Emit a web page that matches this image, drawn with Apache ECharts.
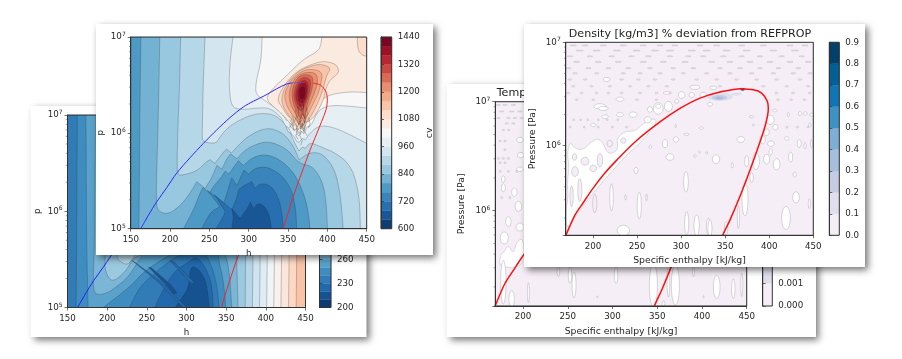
<!DOCTYPE html>
<html><head><meta charset="utf-8">
<script src="https://cdn.jsdelivr.net/npm/echarts@6/dist/echarts.min.js"></script>
<style>html,body{margin:0;padding:0;background:#fff}#c{width:902px;height:359px;filter:blur(0.35px)}</style>
</head><body><div id="c"></div>
<script>
// ---- values: [enthalpy kJ/kg, log10(pressure Pa), 1 = sharp tip] ----
const enthalpyTicks=[200,250,300,350,400,450];
const minorDecades=[2,3,4,5,6,7,8,9];

// front-left panel, cv field
const cvLevels=[600,640,680,720,760,800,840,880,920,960,1000,1040,1080,1120,1160,1200,1240,1280,1320,1360,1400,1440];
const cvColors=['rgb(12,61,115)','rgb(25,86,150)','rgb(39,111,177)','rgb(56,132,187)','rgb(78,154,199)','rgb(116,178,212)','rgb(152,200,224)','rgb(182,215,232)','rgb(211,230,240)','rgb(229,239,244)','rgb(247,247,247)','rgb(250,234,224)','rgb(253,220,201)','rgb(249,196,170)','rgb(245,170,137)','rgb(233,142,113)','rgb(218,106,85)','rgb(202,72,65)','rgb(185,38,50)','rgb(156,17,39)','rgb(121,6,34)'];
const cvUnder1000=[[317,7],[316,6.76],[309,6.52],[309,6.4],[322,6.33],[335.5,6.25],[342,6.2],[345,6.17],[348,6.13,1],[351,6.14,1],[353,6.07,1],[357,6.03,1],[360,6.05,1],[362,5.98,1],[364,5.97,1],[367,6.02,1],[370,5.99,1],[374,6.06,1],[380,6.08],[386,6.2],[395,6.27],[412,6.29],[450,6.26],[450,5],[150,5],[150,7]];
const cvUnder960=[[280,7],[276,6.73],[275,6.48],[278,6.27],[291,6.24],[310,6.26],[327,6.26],[342,6.16],[346,6.07,1],[350,6.06,1],[355,5.98,1],[358,5.96,1],[361,5.91,1],[364,5.9,1],[368,5.94,1],[372,5.93,1],[378,6],[390,6.08],[412,6.05],[450,5.89],[450,5],[150,5],[150,7]];
const cvUnder920=[[244.5,7],[242,6.48],[241,6],[241,5.91],[253,5.89],[259,5.9,1],[268,6.01],[280.5,6.1],[306,6.2],[331,6.2],[346,6.1],[350,6.01,1],[353,6,1],[357,5.92,1],[360,5.87,1],[364,5.81,1],[368,5.85,1],[372,5.84,1],[378,5.9],[390,5.86],[408,5.8],[425,5.7],[435,5.55],[441,5.3],[442,5],[150,5],[150,7]];
const cvUnder880=[[213.5,7],[212,6.48],[210,6.05],[209,5.72],[209.5,5.56],[217,5.56],[234,5.6],[246.5,5.7],[251,5.72,1],[257,5.68,1],[268,5.8],[272,5.83,1],[278,5.79,1],[297.5,5.96],[323,6.06],[344,6],[357,5.86],[364,5.72,1],[378,5.8],[395,5.78],[410,5.61],[417,5.33],[420,5],[150,5],[150,7]];
const cvUnder840=[[187,7],[185,6.13],[182,5.28],[185,5.18],[198,5.15],[213,5.24],[225.5,5.37],[234,5.49,1],[244.5,5.42,1],[253,5.53],[259.5,5.66,1],[266,5.62,1],[272,5.73],[277,5.78,1],[285,5.73,1],[297.5,5.84],[323,5.92],[348,5.84],[364,5.68],[382,5.65],[395,5.47],[399,5.23],[400,5],[150,5],[150,7]];
const cvUnder800=[[217,5],[230,5.2],[238,5.37],[242,5.43,1],[250,5.37,1],[255,5.44],[265.5,5.54],[270,5.6,1],[275,5.57,1],[284,5.68],[287,5.71,1],[293,5.66,1],[306,5.75],[323,5.78],[344,5.7],[361,5.54],[371.5,5.33],[376,5.16],[378,5]];
const cvUnder800Left=[[150,7],[163,7],[162,6.5],[161,5.5],[160.5,5],[150,5]];
const cvUnder760=[[240,5],[252,5.18],[263.5,5.23,1],[247.5,5.4,1],[268.5,5.27,1],[276,5.47],[278.5,5.53,1],[285,5.45,1],[291,5.56],[294,5.61,1],[300,5.57,1],[308,5.63],[323,5.65],[342,5.56],[355,5.4],[360,5.2],[361,5]];
const cvUnder720=[[258.5,5],[268,5.13],[270,5.18,1],[257,5.35,1],[278.5,5.2,1],[285,5.32],[287,5.42],[304,5.49,1],[308,5.42,1],[314,5.47],[327,5.46],[338,5.33],[343,5.13],[344,5]];
const cvUnder680=[[278.5,5],[280.5,5.12,1],[278.5,5.21,1],[289,5.11,1],[300,5.23],[302,5.28,1],[306,5.21,1],[312,5.27],[321,5.23],[327,5.12],[329,5]];
const cvOver1040=[[393,7],[390.5,6.86],[369.5,6.77],[348.5,6.6],[329,6.45],[322,6.36],[329,6.29],[342,6.2],[352.5,6.1,1],[356,6.08,1],[358,6.02,1],[361,6.05,1],[364,5.99,1],[367,6.05,1],[370,6.02,1],[373,6.1,1],[380,6.17],[390.5,6.33],[403,6.4],[429,6.43],[450,6.42],[450,7]];
const cvOver1080Corner=[[438,7],[438.5,6.87],[444,6.81],[450,6.8],[450,7]];
const cvOver1080=[[414,6.67],[410,6.72],[395,6.75],[378,6.71],[361,6.64],[349,6.54],[339,6.41],[337,6.33],[343,6.26],[349,6.18],[354,6.15,1],[357,6.07,1],[360,6.1,1],[363,6.03,1],[367,6.08,1],[370,6.04,1],[373,6.11,1],[376,6.12],[384,6.17],[395,6.34],[398,6.46],[403,6.55],[414,6.62]];
const cvOver1120=[[405,6.68],[391,6.72],[375.8,6.69],[361,6.63],[349,6.52],[342,6.39],[342.5,6.3],[349,6.2],[357,6.12,1],[362,6.06,1],[364.5,6.11,1],[367.4,6.05,1],[370,6.11,1],[375,6.12,1],[383,6.23],[391,6.37],[396,6.5],[399,6.6]];
const cvOver1160=[[394,6.64],[375.8,6.67],[361,6.61],[351,6.52],[345,6.39],[348,6.29],[354,6.2],[360,6.14,1],[364,6.09,1],[367,6.13,1],[369,6.07,1],[373,6.15,1],[381,6.29],[388,6.4],[392,6.52]];
const cvOver1200=[[386,6.63],[369,6.63],[357,6.56],[351,6.42],[352.5,6.31],[358,6.22],[362,6.16,1],[365,6.11,1],[368,6.16,1],[371,6.1,1],[373,6.22,1],[383,6.4],[388,6.53]];
const cvOver1240=[[382,6.6],[367,6.61],[358,6.53],[354.5,6.4],[357.5,6.28],[362.5,6.2,1],[366,6.15,1],[369,6.2,1],[371,6.15,1],[375,6.32],[381,6.46]];
const cvOver1280=[[379,6.57],[366.5,6.58],[359.5,6.49],[357,6.38],[361,6.27],[366.5,6.22],[372,6.29],[378,6.44]];
const cvOver1320=[[376,6.54],[366.5,6.55],[360.5,6.46],[359.5,6.36],[363.5,6.28],[369,6.27],[375,6.4]];
const cvOver1360=[[374,6.52],[366,6.52],[362,6.43],[363,6.34],[368,6.3],[373,6.37]];
const cvOver1400=[[372,6.48],[366,6.48],[364,6.41],[366.5,6.34],[371,6.37]];
const cvNeedles=[[[362,6.28],[364,6.2],[361,6.15],[364,6.08]],[[366,6.3],[368,6.2],[365,6.14],[367,6.06]],[[370,6.3],[369,6.2],[372,6.14],[370,6.08]],[[373,6.27],[375,6.2],[372,6.15]],[[359,6.24],[361,6.18],[358,6.12]],[[364,6.12],[366,6.04],[368,6.1],[370,6]],[[355,6.18],[358,6.12],[355,6.07],[358,6.03]],[[352,6.14],[355,6.1],[352,6.05]],[[360,6.08],[362,6.02],[360,5.97],[363,5.93]],[[367,6.02],[365,5.97],[368,5.92],[366,5.87]],[[372,6.08],[371,6.02],[374,5.97]],[[376,6.16],[378,6.1],[376,6.05]],[[363,6.35],[365,6.3],[363,6.25]],[[368,6.34],[370,6.27],[368,6.22]]];
const domeLiquid=[[162.7,5],[172.5,5.14],[183,5.28],[196,5.43],[208.5,5.58],[225.4,5.74],[242.4,5.89],[259.3,6.03],[276.3,6.16],[293.2,6.27],[306,6.33],[320.8,6.39],[335.6,6.46],[348.3,6.51],[355.5,6.52]];
const domeLiquidEnd=[[355.5,6.52],[364,6.525],[370,6.525]];
const domeVapor=[[344,5],[352.5,5.23],[361,5.44],[369.5,5.63],[378,5.82],[386.4,5.99],[392.8,6.12],[398.3,6.24],[400,6.34],[399,6.41],[396,6.46],[390.7,6.5],[382,6.52]];

// back-left panel, temperature field
const tLevels=[200,210,220,230,240,250,260,270,280,290,300,310,320,330,340,350,360,370,380,390,400,410,420,430,440];
const tTicks=[200,230,260,290,320,350,380,410,440];
const tColors=['rgb(11,59,113)','rgb(23,82,144)','rgb(34,104,173)','rgb(49,123,183)','rgb(63,141,192)','rgb(90,162,203)','rgb(123,182,214)','rgb(154,201,224)','rgb(181,214,231)','rgb(207,228,239)','rgb(223,236,243)','rgb(239,245,246)','rgb(248,241,237)','rgb(251,230,219)','rgb(253,217,196)','rgb(249,195,167)','rgb(245,172,138)','rgb(235,145,115)','rgb(223,116,92)','rgb(210,87,73)','rgb(194,57,59)','rgb(179,27,44)','rgb(150,15,37)','rgb(119,5,33)'];
const tUnder350=[[150,5],[438.2,5],[439,5.6],[440,7],[150,7]];
const tUnder340=[[150,5],[428.6,5],[429.5,5.6],[430,7],[150,7]];
const tUnder330=[[150,5],[419,5],[420,5.6],[421,7],[150,7]];
const tUnder320=[[150,5],[410,5],[411,5.6],[412,7],[150,7]];
const tUnder310=[[150,5],[401,5],[402,5.6],[403,7],[150,7]];
const tUnder300=[[150,5],[392,5],[393,5.6],[394,7],[150,7]];
const tUnder290=[[150,5],[383,5],[384,5.6],[385,7],[150,7]];
const tUnder280=[[150,5],[374,5],[374.5,5.6],[375,7],[150,7]];
const tUnder270=[[150,5],[365,5],[364,5.3],[363,5.55],[365,7],[150,7]];
const tBayInner=[[197.3,5.51],[197.3,5.39],[203.6,5.28],[212,5.29],[224.6,5.39],[231,5.49],[237,5.53],[260,5.6],[230,5.8],[200,5.8]];
const tBayTip=[[212,5.54],[214,5.49],[224.6,5.44],[231,5.49],[240,5.6],[215,5.6]];
const tUnder260=[[150,7],[185.5,7],[184,5.6],[182.6,5.39],[182.6,5.18],[186.8,5.13],[199.4,5.147],[212,5.217],[224.6,5.3],[235,5.42],[239.4,5.49],[260,5.7],[340,5.7],[350.8,5.53],[355,5.285],[357,5],[150,5]];
const tUnder250Left=[[150,7],[173.3,7],[174,5.7],[176,5],[150,5]];
const tUnder250=[[195,5],[231,5.23],[244,5.355],[267,5.49],[283,5.56],[300,5.7],[340.3,5.7],[340.3,5.49],[346.6,5.285],[349.5,5]];
const tUnder240Left=[[150,7],[162.4,7],[161.5,5.6],[160.7,5],[150,5]];
const tUnder240=[[228,5],[241.5,5.22],[262,5.37],[278,5.48],[295,5.56],[320,5.6],[329.8,5.475],[338.2,5.25],[341.1,5]];
const tUnder230=[[260,5],[270,5.18],[285,5.38],[300,5.46],[312.9,5.53],[323.4,5.425],[331.9,5.25],[334,5]];
const tUnder220=[[285.6,5],[296,5.12],[303,5.22],[305,5.44],[317.1,5.39],[325.5,5.25],[328.9,5]];
const tStripeA=[[231,5.49,1],[262,5.28,1],[296,5],[300,5],[268,5.27,1],[235,5.47,1]];
const tStripeB=[[279,5.49,1],[306,5.25,1],[310,5.26,1],[285,5.47,1]];
const tStripeC=[[252,5.42,1],[276,5.22,1],[284,5.14,1],[288,5.15,1],[280,5.24,1],[256,5.41,1]];

// right panels, deviation fields
const devLevels=[0,0.1,0.2,0.3,0.4,0.5,0.6,0.7,0.8,0.9];
const tempDevLevels=[0,0.001,0.002,0.003,0.004,0.005,0.006,0.007,0.008,0.009];
const devColors=['#f5eef6','#e1dfee','#c5cce3','#a6bddb','#7eaed3','#3f93c2','#0f75b3','#045f94','#03406b'];
const domeRightLiquid=[[165,5.05],[169,5.13],[179.6,5.33],[189,5.45],[200,5.587],[213,5.73],[226.9,5.86],[249.5,6.05],[276,6.23],[298.7,6.36],[321.4,6.46],[344,6.52],[366.8,6.55]];
const domeRightVapor=[[366.8,6.55],[382,6.54],[391,6.51],[397.8,6.43],[398.9,6.35],[395,6.18],[387.6,5.99],[378,5.76],[366.8,5.51],[355.4,5.28],[347,5.13],[344,5.05]];
const devMassFront=[[170,5.17],[169.3,5.38],[172,5.51],[170.8,5.64],[173,5.8],[170.8,5.93],[173.8,6.04],[179.5,5.97],[189,5.96],[198.4,6.04],[206,6.07],[211.7,6.02],[217.4,5.91],[228.7,5.96],[226.8,6.07],[236.3,6.14],[247.6,6.14],[255.2,6.2],[264.6,6.26],[274,6.25],[259,6.07],[238,5.91],[219,5.73],[200,5.54],[185,5.38]];
// [h, log10p, half-width, half-height]
const devWhiteBlobs=[[221,5.5,2,0.13],[252.5,5.42,2.3,0.13],[305.5,5.65,2.6,0.1],[281.7,6.02,3,0.04],[294,6.06,3,0.026],[287.3,5.89,4.5,0.032],[248.8,5.76,2.3,0.032],[234.4,5.18,7,0.05],[306.3,5.25,2.3,0.11],[317.6,5.23,3,0.1],[330.8,5.22,2,0.08],[260.8,5.5,0.8,0.032],[237,5.5,0.8,0.026],[306,6.11,3,0.01],[265,5.99,1.5,0.016],[315.7,5.9,1.5,0.013],[321,5.94,1.5,0.01],[329,5.93,1.2,0.01],[323,6.17,2,0.013],[294,6.19,0.8,0.016],
[419,5.3,4.9,0.113],[430.4,5.5,3.8,0.055],[372.5,5.48,3.4,0.16],[385,5.85,3.8,0.08],[397,5.87,3.4,0.048],[408.4,5.82,3.8,0.055],[374.4,5.85,2.3,0.055],[339.6,5.87,4.2,0.042],[367.6,6.06,4.2,0.029],[392.5,6.06,3,0.042],[397,6.13,3,0.032],[402,6.02,3.8,0.026],[401.6,5.94,1.9,0.032],[407,6.18,3,0.026],[401,6.25,4.5,0.045],[419.8,6.07,2.6,0.016],[424.3,5.89,2.3,0.048],[434,6.02,2.3,0.039],[440.6,6,1.2,0.032],[448,6.02,1.2,0.039],[380,5.69,1.9,0.048],[358,5.81,1.2,0.026],[332.7,5.2,2.3,0.08],[351,5.2,1.9,0.065],[365,5.31,1.2,0.11],[445.5,5.44,1.2,0.048],[429,5.72,1.9,0.023],[380,6.28,2.6,0.01],[382,6.2,1.2,0.01],[332.7,6.4,3,0.019],[406.5,6.34,2.6,0.013],[421.6,6.3,1.2,0.02],[435,6.31,1.9,0.02],[441,6.31,1.9,0.02],[448,6.3,1.9,0.016],[446,6.2,1.2,0.02],
[215.5,6.64,3.8,0.02],[230.6,6.45,4.5,0.02],[207.9,6.38,6.8,0.026],[274,6.36,5.6,0.055],[285.5,6.38,4.5,0.048],[300.6,6.49,3.8,0.032],[315.7,6.565,5.6,0.02],[325.2,6.49,3.8,0.026],[312,6.49,3,0.026],[336.5,6.56,3.8,0.016],[264.6,6.35,3,0.026],[295,6.43,2.3,0.02],[283.5,6.51,3.8,0.013],[274,6.38,3,0.02],[262,6.25,4,0.03],[245.5,6.3,4.5,0.026],[230.6,6.3,3.8,0.02],[211.7,6.36,5.6,0.02],[213.6,6.28,3.8,0.016],[200.3,6.2,3,0.016]];
const devIslands=[[190.9,5.85,4.5,0.039],[179.5,5.75,3.8,0.048],[207.9,5.86,3,0.065],[200.3,5.78,3.8,0.032],[185,5.57,2.3,0.11],[175.7,5.51,1.9,0.1],[219,6.02,3,0.032],[234.4,6.05,3,0.026],[202,5.44,2.3,0.09],[179,5.89,2.6,0.03]];
const devDashRows=[
 {e:6.97,dh:3.6,de:0.005,hs:[177.6,190.9,211.7,234.4,257,276,293,321.4,340.3,368.7,393.3,423.5,440.5]},
 {e:6.92,dh:4.2,de:0.005,hs:[185,204,227,249.5,270.3,287.3,312,329,351.6,374.4,404.6,429.2]},
 {e:6.865,dh:3.2,de:0.005,hs:[173.8,196.5,221.1,243.8,262.8,287.3,308.1,325.2,347.9,368.7,389.5,414.1,436.8]},
 {e:6.81,dh:3.6,de:0.006,hs:[181.4,206,228.7,257.1,279.8,304.4,334.6,355.4,378.1,400.8,423.5,444.3]},
 {e:6.75,dh:2.8,de:0.006,hs:[172,194.7,217.4,240,264.6,291.1,313.8,344.1,366.8,389.5,410.3,433]},
 {e:6.7,dh:2.6,de:0.007,hs:[179.5,204.1,234.4,253.3,276,302.5,329,355.4,380,404.6,427.3,446.2]},
 {e:6.64,dh:2.2,de:0.007,hs:[173.8,190.9,232.5,251.4,270.3,291.1,317.6,340.3,363,385.7,408.4,434.9]},
 {e:6.575,dh:2,de:0.008,hs:[177.6,198.4,219.2,242,262.8,283.6,344.1,393.3,419.8,444.3]},
 {e:6.51,dh:1.8,de:0.009,hs:[172,187,204,217.4,232.5,253.3,272,287.3,408,427,446]},
 {e:6.445,dh:1.6,de:0.009,hs:[181.4,200.3,228.7,250,272,410,425,440]},
 {e:6.25,dh:1.2,de:0.01,hs:[178,186,194,206,216,228]},
 {e:6.18,dh:1.2,de:0.01,hs:[174,190,206,222,238,420,432,444]}];
const tempWhiteBlobs=[[196.6,6.65,3.7,0.024],[197.4,6.51,3.7,0.024],[196.6,6.38,3.7,0.021],[178,6.29,1.9,0.03],[178,6.21,2.2,0.037],[190.3,6.17,3,0.04],[194.8,6.04,3.7,0.046],[183.6,5.9,3,0.046],[196.6,5.85,4.5,0.037],[179,5.75,4.5,0.055],
[178,5.345,3,0.2],[187.3,5.19,3,0.076],[206,5.25,1.1,0.09],[239.5,5.44,1.5,0.046],[252.5,5.41,1.9,0.076],[257,5.32,2.2,0.12],[304,5.41,1.9,0.076],[345.7,5.315,4.5,0.2],[357,5.15,1.5,0.024],[370.3,5.315,4.5,0.18],[362.5,5.35,1.5,0.14],[416.5,5.3,3.7,0.107],[435,5.285,1.9,0.09],[444.5,5.32,1.1,0.107],[390.5,5.44,1.1,0.046],[283,5.21,0.6,0.01],[401.6,5.21,0.6,0.01]];
const tempMass=[[172.8,5.48],[175,5.6],[178.7,5.62],[183.6,5.69],[189.2,5.6],[192.9,5.72],[201,5.75],[201,5.48]];
const tempDashRows=[
 {e:6.97,dh:2.6,de:0.005,hs:[172.4,179.9,189.2]},{e:6.91,dh:2.6,de:0.005,hs:[176.1,187.3,196.6]},{e:6.85,dh:2.2,de:0.005,hs:[172.4,183.6,191,198.5]},{e:6.8,dh:2,de:0.006,hs:[181.7,189.2]},{e:6.74,dh:1.6,de:0.007,hs:[178,184]},{e:6.64,dh:1.6,de:0.008,hs:[174.3,179.9]},{e:6.56,dh:1.4,de:0.008,hs:[179.9]},{e:6.48,dh:1.4,de:0.01,hs:[172.4,178,183.6]},{e:6.44,dh:1.4,de:0.009,hs:[174.3,179.9]},{e:6.36,dh:1.2,de:0.01,hs:[174.3,183.6,192.9]},{e:6.12,dh:1.2,de:0.012,hs:[176.1,185.4]}];
const devSmudges=[[344,6.474,15,0.04,1],[363,6.5,6,0.016,1],[343.5,6.465,9,0.026,2],[343,6.46,4.5,0.013,3],[369.8,6.545,4.5,0.02,1],[369.8,6.545,2.5,0.013,7]];

// ---- layout of the four pasted figures ----
const INK='#262626', LINE='rgba(50,50,50,0.45)', WLINE='rgba(125,125,130,0.42)', DASH='rgba(125,125,130,0.32)';
const cards=[{x:30.5,y:106,w:336,h:231},{x:96,y:24,w:337,h:231},{x:446.5,y:84,w:369.5,h:253},{x:524,y:24,w:341,h:243}];
const grids=[
 {left:67.5,top:115,width:238,height:192.5},{left:130.7,top:37,width:236,height:191.7},
 {left:495.3,top:101.7,width:251.4,height:204.3},{left:565.7,top:42.3,width:247.6,height:193},
 {left:319.5,top:115,width:11.5,height:192.5},{left:381,top:37,width:10.7,height:191.7},
 {left:762.7,top:101.7,width:9.6,height:204.3},{left:829.3,top:42.3,width:10,height:193}];
const zOf=[10,30,50,70];
const pw=e=>Math.pow(10,e);
const xAxes=[],yAxes=[],series=[];
const TICKFONT=8.7, NAMEFONT=9.3;

function powerLabel(v){const e=Math.round(Math.log10(v));return Math.abs(Math.log10(v)-e)<1e-3?'{b|10}{s|'+e+'}':'';}
const rich={b:{fontSize:TICKFONT,color:INK,fontFamily:'DejaVu Sans'},s:{fontSize:6,color:INK,fontFamily:'DejaVu Sans',verticalAlign:'bottom',padding:[0,0,5,0]}};
const lab=(o)=>Object.assign({fontSize:TICKFONT,color:INK,fontFamily:'DejaVu Sans',margin:6.5},o||{});
const axLine={show:true,lineStyle:{color:'#333',width:1}};
const tick={show:true,length:3,lineStyle:{color:'#333',width:0.7}};
const nameStyle=s=>({fontSize:s,color:INK,fontFamily:'DejaVu Sans'});

function addPlot(k,xmin,pmin,xname,yname,xCustom,gapX,gapY,nameSize){
 const z=zOf[k]+6;
 xAxes.push({gridIndex:k,type:'value',min:xmin,max:450,z,name:xname,nameLocation:'middle',nameGap:gapX,
  nameTextStyle:nameStyle(nameSize),splitLine:{show:false},axisLine:axLine,
  axisTick:Object.assign({},tick,{customValues:xCustom}),axisLabel:lab({customValues:xCustom,showMinLabel:true,showMaxLabel:true})});
 yAxes.push({gridIndex:k,type:'log',logBase:10,min:pmin,max:1e7,z,name:yname,nameLocation:'middle',nameGap:gapY,
  nameTextStyle:nameStyle(nameSize),splitLine:{show:false},axisLine:axLine,axisTick:tick,
  axisLabel:{margin:5,formatter:powerLabel,rich,showMinLabel:true,showMaxLabel:true}});
}
function addColorbar(k,plot,min,max,interval,custom,fmt,name){
 const z=zOf[plot]+6;
 xAxes.push({gridIndex:k,type:'value',min:0,max:1,show:false,z});
 const a={gridIndex:k,type:'value',position:'right',min,max,z,splitLine:{show:false},axisLine:axLine,axisTick:tick,
  axisLabel:lab({formatter:fmt,margin:6}),nameTextStyle:nameStyle(NAMEFONT)};
 if(interval)a.interval=interval;
 if(custom){a.axisTick=Object.assign({},tick,{customValues:custom});a.axisLabel.customValues=custom;}
 if(name){a.name=name;a.nameLocation='middle';a.nameGap=33;a.nameRotate=90;}
 yAxes.push(a);
}
function bandSeries(axisIdx,plot,levels,colors){
 series.push({type:'custom',xAxisIndex:axisIdx,yAxisIndex:axisIdx,z:zOf[plot]+2,silent:true,animation:false,
  data:colors.map((c,i)=>[0,levels[i],levels[i+1]]),encode:{x:0,y:1},
  renderItem(p,api){const i=p.dataIndex;const a=api.coord([0,levels[i+1]]),b=api.coord([1,levels[i]]);
   return {type:'rect',shape:{x:a[0],y:a[1],width:b[0]-a[0],height:b[1]-a[1]},style:{fill:colors[i],stroke:colors[i],lineWidth:0.3}};}});
}
// rounds the read-off contour vertices; vertices on the plot frame or flagged as tips stay where they are
function rounded(pts,xmin,emin,closed){
 const fixed=q=>q[2]===1||q[0]<=xmin||q[0]>=450||q[1]<=emin||q[1]>=7;
 let cur=pts;
 for(let it=0;it<2;it++){
  const out=[];const n=cur.length;
  for(let i=0;i<(closed?n:n-1);i++){
   const a=cur[i],b=cur[(i+1)%n];const fa=fixed(a),fb=fixed(b);
   if(fa)out.push(a);else out.push([a[0]*.76+b[0]*.24,a[1]*.76+b[1]*.24]);
   if(!fb)out.push([a[0]*.24+b[0]*.76,a[1]*.24+b[1]*.76]);
  }
  if(!closed)out.push(cur[n-1]);
  cur=out;
 }
 return cur;
}
function polySeries(axisIdx,plot,layers,lineColor,xmin,emin){
 series.push({type:'custom',xAxisIndex:axisIdx,yAxisIndex:axisIdx,z:zOf[plot]+2,clip:true,silent:true,animation:false,
  data:layers.map(l=>[l.pts[0][0],pw(l.pts[0][1])]),encode:{x:0,y:1},
  renderItem(p,api){const l=layers[p.dataIndex];const src=l.open?l.pts:rounded(l.pts,xmin,emin,true);const pts=src.map(q=>api.coord([q[0],pw(q[1])]));
   if(l.open)return {type:'polyline',z2:p.dataIndex,shape:{points:pts},style:{fill:'none',stroke:l.stroke||lineColor,lineWidth:0.5}};
   return {type:'polygon',z2:p.dataIndex,shape:{points:pts},style:{fill:l.fill,stroke:lineColor,lineWidth:0.6}};}});
}
function blobSeries(axisIdx,plot,blobs,fill,stroke,width){
 series.push({type:'custom',xAxisIndex:axisIdx,yAxisIndex:axisIdx,z:zOf[plot]+3,clip:true,silent:true,animation:false,
  data:blobs.map(b=>[b[0],pw(b[1])]),encode:{x:0,y:1},
  renderItem(p,api){const b=blobs[p.dataIndex];const c=api.coord([b[0],pw(b[1])]),d=api.coord([b[0]+b[2],pw(b[1]+b[3])]);
   const f=b.length>4?devColors[b[4]]:fill;
   return {type:'ellipse',shape:{cx:c[0],cy:c[1],rx:Math.abs(d[0]-c[0]),ry:Math.abs(c[1]-d[1])},style:{fill:f,stroke:b.length>4?null:stroke,lineWidth:width||0.7}};}});
}
function lineSeries(k,pts,color,width,type){
 series.push({type:'line',xAxisIndex:k,yAxisIndex:k,z:zOf[k]+4,data:pts.map(q=>[q[0],pw(q[1])]),showSymbol:false,smooth:0.3,silent:true,animation:false,clip:true,
  lineStyle:{color,width,type:type||'solid'}});
}
function minorSeries(k,xmin,pmin){
 const vals=[];[5,6].forEach(d=>minorDecades.forEach(m=>{const v=m*pw(d);if(v>=pmin&&v<=1e7)vals.push(v);}));
 series.push({type:'custom',xAxisIndex:k,yAxisIndex:k,z:zOf[k]+6,silent:true,animation:false,clip:false,
  data:vals.map(v=>[xmin,v]),encode:{x:0,y:1},
  renderItem(p,api){const c=api.coord([xmin,vals[p.dataIndex]]);
   return {type:'line',shape:{x1:c[0],y1:c[1],x2:c[0]-1.8,y2:c[1]},style:{stroke:'#444',lineWidth:0.5}};}});
}
function rowsToBlobs(rows){const out=[];rows.forEach(r=>r.hs.forEach(h=>out.push([h,r.e,r.dh,r.de])));return out;}
function fullRect(xmin,emin){return [[xmin,emin],[450,emin],[450,7],[xmin,7]];}

// --- axes (order: plots 0..3 then colorbars 4..7)
const leftTicks=[150,200,250,300,350,400,450];
addPlot(0,150,1e5,'h','p',leftTicks,20,25,8.7);
addPlot(1,150,1e5,'h','p',leftTicks,20,25,8.7);
addPlot(2,169,pw(5.126),'Specific enthalpy [kJ/kg]','Pressure [Pa]',enthalpyTicks,21,29,NAMEFONT);
addPlot(3,169,pw(5.133),'Specific enthalpy [kJ/kg]','Pressure [Pa]',enthalpyTicks,21,29,NAMEFONT);
addColorbar(4,0,200,440,null,tTicks,v=>String(v));
addColorbar(5,1,600,1440,120,null,v=>String(v),'cv');
addColorbar(6,2,0,0.009,0.001,null,v=>v.toFixed(3));
addColorbar(7,3,0,0.9,0.1,null,v=>v.toFixed(1));

// --- back-left
const T=i=>tColors[i];
polySeries(0,0,[
 {pts:fullRect(150,5),fill:T(15)},{pts:tUnder350,fill:T(14)},{pts:tUnder340,fill:T(13)},{pts:tUnder330,fill:T(12)},{pts:tUnder320,fill:T(11)},{pts:tUnder310,fill:T(10)},{pts:tUnder300,fill:T(9)},{pts:tUnder290,fill:T(8)},{pts:tUnder280,fill:T(7)},{pts:tUnder270,fill:T(6)},
 {pts:tBayInner,fill:T(7)},{pts:tBayTip,fill:T(8)},{pts:tUnder260,fill:T(5)},{pts:tUnder250Left,fill:T(4)},{pts:tUnder250,fill:T(4)},{pts:tUnder240Left,fill:T(3)},{pts:tUnder240,fill:T(3)},{pts:tUnder230,fill:T(2)},{pts:tUnder220,fill:T(1)},
 {pts:tStripeA,fill:T(2)},{pts:tStripeB,fill:T(2)},{pts:tStripeC,fill:T(1)}],LINE,150,5);
lineSeries(0,domeLiquid,'#1f1fff',1);lineSeries(0,domeVapor,'#ff2020',1);
// --- front-left
const C=i=>cvColors[i];
polySeries(1,1,[
 {pts:fullRect(150,5),fill:C(10)},{pts:cvUnder1000,fill:C(9)},{pts:cvUnder960,fill:C(8)},{pts:cvUnder920,fill:C(7)},{pts:cvUnder880,fill:C(6)},{pts:cvUnder840,fill:C(5)},
 {pts:cvUnder800Left,fill:C(4)},{pts:cvUnder800,fill:C(4)},{pts:cvUnder760,fill:C(3)},{pts:cvUnder720,fill:C(2)},{pts:cvUnder680,fill:C(1)},
 {pts:cvOver1040,fill:C(11)},{pts:cvOver1080Corner,fill:C(12)},{pts:cvOver1080,fill:C(12)},{pts:cvOver1120,fill:C(13)},{pts:cvOver1160,fill:C(14)},{pts:cvOver1200,fill:C(15)},{pts:cvOver1240,fill:C(16)},{pts:cvOver1280,fill:C(17)},{pts:cvOver1320,fill:C(18)},{pts:cvOver1360,fill:C(19)},{pts:cvOver1400,fill:C(20)}
].concat(cvNeedles.map(n=>({pts:n,open:true,stroke:'rgba(40,40,40,0.6)'}))),LINE,150,5);
lineSeries(1,domeLiquid,'#2a2aff',1);lineSeries(1,domeLiquidEnd,'#4a4aff',1,'dotted');lineSeries(1,domeVapor,'#ff2020',1);
// --- back-right
polySeries(2,2,[{pts:fullRect(169,5.126),fill:devColors[0]},{pts:tempMass,fill:'#ffffff'}],WLINE,169,5.126);
blobSeries(2,2,rowsToBlobs(tempDashRows),'#e9e5ec',DASH,0.6);
blobSeries(2,2,tempWhiteBlobs,'#ffffff',WLINE);
lineSeries(2,domeRightLiquid,'#ff1010',1.5);lineSeries(2,domeRightVapor,'#ff1010',1.5);
// --- front-right
polySeries(3,3,[{pts:fullRect(169,5.133),fill:devColors[0]},{pts:devMassFront,fill:'#ffffff'}],WLINE,169,5.133);
blobSeries(3,3,rowsToBlobs(devDashRows),'#e9e5ec',DASH,0.6);
blobSeries(3,3,devWhiteBlobs,'#ffffff',WLINE);
blobSeries(3,3,devIslands,devColors[0],WLINE);
blobSeries(3,3,devSmudges,devColors[1],WLINE);
lineSeries(3,domeRightLiquid,'#ff1010',1.5);lineSeries(3,domeRightVapor,'#ff1010',1.5);
// --- minor ticks
minorSeries(0,150,1e5);minorSeries(1,150,1e5);minorSeries(2,169,pw(5.126));minorSeries(3,169,pw(5.133));
// --- colorbars
bandSeries(4,0,tLevels,tColors);bandSeries(5,1,cvLevels,cvColors);bandSeries(6,2,tempDevLevels,devColors);bandSeries(7,3,devLevels,devColors);

const plotOf=[0,1,2,3,0,1,2,3];
const chart=echarts.init(document.getElementById('c'),null,{renderer:'canvas'});
chart.setOption({animation:false,backgroundColor:'#fff',
 title:[
  {text:'Temperature [K] % deviation from REFPROP',left:613,top:83,textAlign:'center',z:zOf[2]+6,textStyle:{fontSize:11.1,fontWeight:'normal',color:'#222',fontFamily:'DejaVu Sans'}},
  {text:'Density [kg/m3] % deviation from REFPROP',left:685,top:24,textAlign:'center',z:zOf[3]+6,textStyle:{fontSize:11.1,fontWeight:'normal',color:'#222',fontFamily:'DejaVu Sans'}}],
 graphic:{elements:cards.map((c,i)=>({type:'rect',z:zOf[i],silent:true,shape:{x:c.x,y:c.y,width:c.w,height:c.h},
   style:{fill:'#fff',shadowBlur:7,shadowOffsetX:3,shadowOffsetY:3,shadowColor:'rgba(0,0,0,0.55)'}}))},
 grid:grids.map((g,i)=>Object.assign({show:true,z:zOf[plotOf[i]]+5,backgroundColor:'transparent',borderColor:'#333',borderWidth:1,containLabel:false},g)),
 xAxis:xAxes,yAxis:yAxes,series});
</script></body></html>
